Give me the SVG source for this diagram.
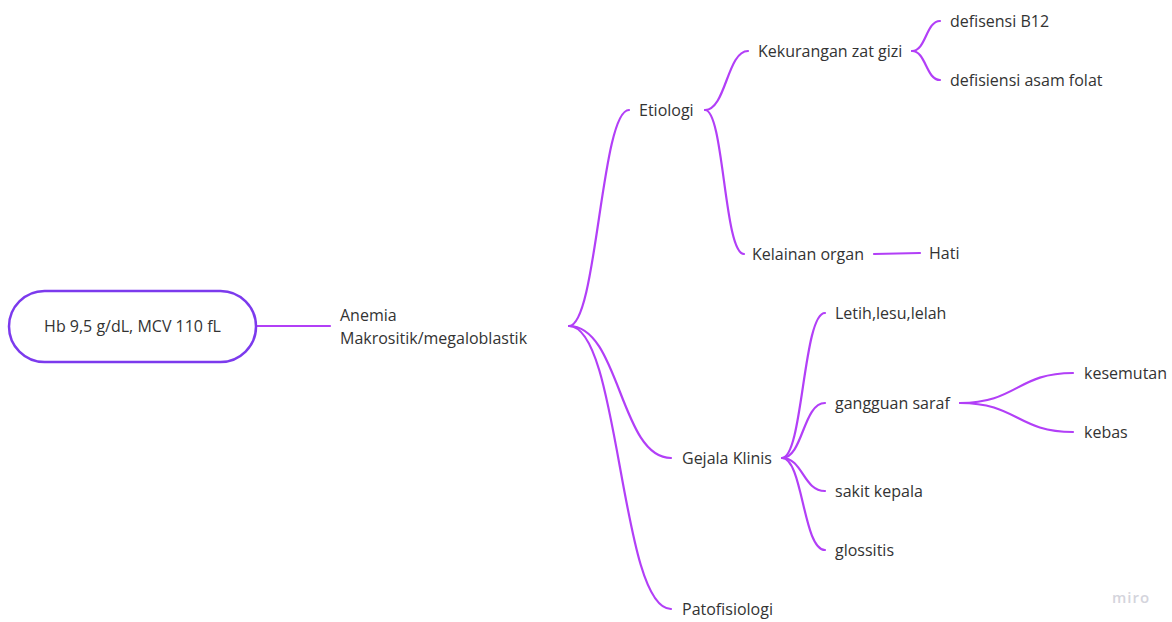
<svg xmlns="http://www.w3.org/2000/svg" width="1172" height="622" viewBox="0 0 1172 622">
  <style>
    .lbl { font-family: "Open Sans", "Noto Sans", "Liberation Sans", sans-serif; font-size: 16px; fill: #333333; }
    .edge { fill: none; stroke: #b23ff7; stroke-width: 2.2; stroke-linecap: round; }
    .root { fill: #ffffff; stroke: #7c3aed; stroke-width: 2.5; }
    .mark { font-family: "Open Sans", "Liberation Sans", sans-serif; font-size: 15px; font-weight: 600; fill: #d4d4dc; letter-spacing: 1px; }
  </style>
  <rect width="1172" height="622" fill="#ffffff"/>

  <!-- connectors -->
  <g id="connectors">
    <path class="edge" d="M257,326 L330,326"/>
    <!-- main topic branches -->
    <path class="edge" d="M569,326 C597,326 601,110 629,110"/>
    <path class="edge" d="M569,326 C620,326 620,458 671,458"/>
    <path class="edge" d="M569,326 C620,326 620,609 671,609"/>
    <!-- Etiologi -->
    <path class="edge" d="M705,110 C726,110 727,51 748,51"/>
    <path class="edge" d="M705,110 C724,110 724,254 744,254"/>
    <path class="edge" d="M912,51 C926,51 926,21 940,21"/>
    <path class="edge" d="M912,51 C926,51 926,80 940,80"/>
    <path class="edge" d="M874,254 L920,253"/>
    <!-- Gejala Klinis -->
    <path class="edge" d="M782,458 C803,458 803,313 825,313"/>
    <path class="edge" d="M782,458 C803,458 803,403 825,403"/>
    <path class="edge" d="M782,458 C803,458 803,491 825,491"/>
    <path class="edge" d="M782,458 C803,458 803,550 825,550"/>
    <!-- gangguan saraf -->
    <path class="edge" d="M960,403 C1017,403 1017,373 1073,373"/>
    <path class="edge" d="M960,403 C1017,403 1017,432 1073,432"/>
  </g>

  <g id="node-root">
    <rect class="root" x="9" y="291" width="247" height="71" rx="35.5" ry="35.5"/>
    <text class="lbl" x="132.5" y="332" text-anchor="middle">Hb 9,5 g/dL, MCV 110 fL</text>
  </g>
  <g id="node-anemia">
    <text class="lbl" x="340" y="321">Anemia</text>
    <text class="lbl" x="340" y="344">Makrositik/megaloblastik</text>
  </g>
  <g id="node-etiologi"><text class="lbl" x="639" y="116">Etiologi</text></g>
  <g id="node-kekurangan"><text class="lbl" x="758" y="57">Kekurangan zat gizi</text></g>
  <g id="node-b12"><text class="lbl" x="950" y="27">defisensi B12</text></g>
  <g id="node-folat"><text class="lbl" x="950" y="86">defisiensi asam folat</text></g>
  <g id="node-kelainan"><text class="lbl" x="752" y="260">Kelainan organ</text></g>
  <g id="node-hati"><text class="lbl" x="929" y="259">Hati</text></g>
  <g id="node-gejala"><text class="lbl" x="682" y="464">Gejala Klinis</text></g>
  <g id="node-letih"><text class="lbl" x="835" y="319">Letih,lesu,lelah</text></g>
  <g id="node-saraf"><text class="lbl" x="835" y="409">gangguan saraf</text></g>
  <g id="node-kesemutan"><text class="lbl" x="1084" y="379">kesemutan</text></g>
  <g id="node-kebas"><text class="lbl" x="1084" y="438">kebas</text></g>
  <g id="node-sakit"><text class="lbl" x="835" y="497">sakit kepala</text></g>
  <g id="node-glossitis"><text class="lbl" x="835" y="556">glossitis</text></g>
  <g id="node-patofisiologi"><text class="lbl" x="682" y="615">Patofisiologi</text></g>

  <text class="mark" x="1112" y="603">miro</text>
</svg>
